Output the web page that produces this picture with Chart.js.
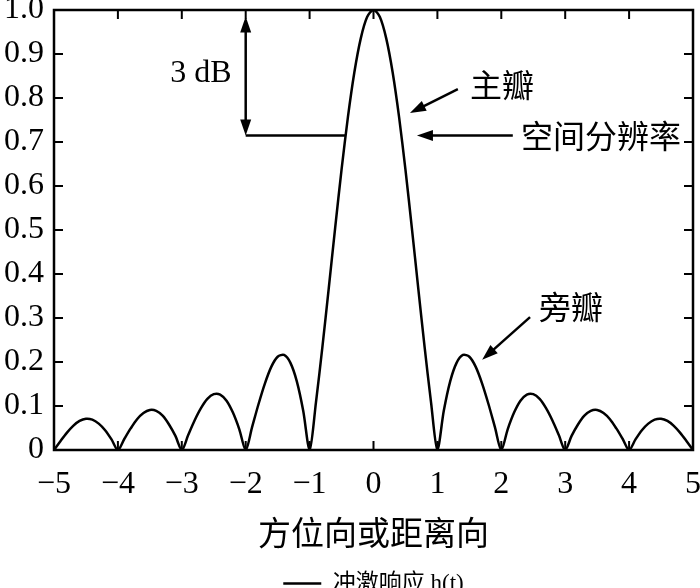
<!DOCTYPE html>
<html lang="zh">
<head>
<meta charset="utf-8">
<title>冲激响应</title>
<script src="https://cdn.jsdelivr.net/npm/chart.js@4/dist/chart.umd.min.js"></script>
<style>
  html, body { margin: 0; padding: 0; background: #fff; overflow: hidden; }
  #wrap { width: 700px; height: 605px; }
</style>
</head>
<body>
<div id="wrap"><canvas id="myChart" width="700" height="605"></canvas></div>
<script>
// 横轴位置 (方位向或距离向)
const xs = [
  -5, -4.9, -4.8, -4.7, -4.6, -4.5, -4.4, -4.3, -4.2, -4.1,
  -4, -3.9, -3.8, -3.7, -3.6, -3.5, -3.4, -3.3, -3.2, -3.1,
  -3, -2.9, -2.8, -2.7, -2.6, -2.5, -2.4, -2.3, -2.2, -2.1,
  -2, -1.9, -1.8, -1.7, -1.6, -1.5, -1.4, -1.3, -1.2, -1.1,
  -1, -0.9, -0.8, -0.7, -0.6, -0.5, -0.4, -0.3, -0.2, -0.1,
  0, 0.1, 0.2, 0.3, 0.4, 0.5, 0.6, 0.7, 0.8, 0.9,
  1, 1.1, 1.2, 1.3, 1.4, 1.5, 1.6, 1.7, 1.8, 1.9,
  2, 2.1, 2.2, 2.3, 2.4, 2.5, 2.6, 2.7, 2.8, 2.9,
  3, 3.1, 3.2, 3.3, 3.4, 3.5, 3.6, 3.7, 3.8, 3.9,
  4, 4.1, 4.2, 4.3, 4.4, 4.5, 4.6, 4.7, 4.8, 4.9,
  5
];
// 冲激响应 h(t)
const hVals = [
  0, 0.020, 0.039, 0.055, 0.066, 0.071, 0.069, 0.060, 0.045, 0.024,
  0, 0.025, 0.049, 0.070, 0.084, 0.091, 0.089, 0.078, 0.058, 0.032,
  0, 0.034, 0.067, 0.095, 0.116, 0.127, 0.126, 0.112, 0.085, 0.047,
  0, 0.052, 0.104, 0.151, 0.189, 0.212, 0.216, 0.198, 0.156, 0.089,
  0, 0.109, 0.234, 0.368, 0.505, 0.637, 0.757, 0.858, 0.935, 0.984,
  1, 0.984, 0.935, 0.858, 0.757, 0.637, 0.505, 0.368, 0.234, 0.109,
  0, 0.089, 0.156, 0.198, 0.216, 0.212, 0.189, 0.151, 0.104, 0.052,
  0, 0.047, 0.085, 0.112, 0.126, 0.127, 0.116, 0.095, 0.067, 0.034,
  0, 0.032, 0.058, 0.078, 0.089, 0.091, 0.084, 0.070, 0.049, 0.025,
  0, 0.024, 0.045, 0.060, 0.069, 0.071, 0.066, 0.055, 0.039, 0.020,
  0
];
const xTicks = [-5, -4, -3, -2, -1, 0, 1, 2, 3, 4, 5];
const xTickLabels = ['\u22125', '\u22124', '\u22123', '\u22122', '\u22121', '0', '1', '2', '3', '4', '5'];
const yTicks = [0, 0.1, 0.2, 0.3, 0.4, 0.5, 0.6, 0.7, 0.8, 0.9, 1.0];
const yTickLabels = ['0', '0.1', '0.2', '0.3', '0.4', '0.5', '0.6', '0.7', '0.8', '0.9', '1.0'];
const halfPower = 0.715;   // 3 dB 处

const serif = "'Liberation Serif', 'Noto Sans CJK SC', serif";
const cjk = "'Noto Sans CJK SC', 'Liberation Serif', sans-serif";

function arrowHead(ctx, x1, y1, x2, y2) {
  const a = Math.atan2(y2 - y1, x2 - x1);
  const len = 16, w = 5.5;
  ctx.beginPath();
  ctx.moveTo(x2, y2);
  ctx.lineTo(x2 - len * Math.cos(a) + w * Math.sin(a), y2 - len * Math.sin(a) - w * Math.cos(a));
  ctx.lineTo(x2 - len * Math.cos(a) - w * Math.sin(a), y2 - len * Math.sin(a) + w * Math.cos(a));
  ctx.closePath();
  ctx.fill();
}

function arrow(ctx, x1, y1, x2, y2) {
  const a = Math.atan2(y2 - y1, x2 - x1);
  ctx.beginPath();
  ctx.moveTo(x1, y1);
  ctx.lineTo(x2 - 10 * Math.cos(a), y2 - 10 * Math.sin(a));
  ctx.stroke();
  arrowHead(ctx, x1, y1, x2, y2);
}

// 边框, 向内刻度, 标注
const framePlugin = {
  id: 'framePlugin',
  afterDraw(chart) {
    const ctx = chart.ctx, a = chart.chartArea;
    const sx = chart.scales.x, sy = chart.scales.y;
    const X = v => sx.getPixelForValue(v), Y = v => sy.getPixelForValue(v);
    ctx.save();
    ctx.strokeStyle = '#000';
    ctx.fillStyle = '#000';
    ctx.lineWidth = 2.5;
    ctx.strokeRect(a.left, a.top, a.right - a.left, a.bottom - a.top);

    ctx.lineWidth = 2;
    ctx.beginPath();
    xTicks.forEach(v => {
      ctx.moveTo(X(v), a.bottom); ctx.lineTo(X(v), a.bottom - 9);
      ctx.moveTo(X(v), a.top); ctx.lineTo(X(v), a.top + 9);
    });
    yTicks.forEach(v => {
      ctx.moveTo(a.left, Y(v)); ctx.lineTo(a.left + 9, Y(v));
      ctx.moveTo(a.right, Y(v)); ctx.lineTo(a.right - 9, Y(v));
    });
    ctx.stroke();

    // 3 dB 双箭头和水平线
    ctx.lineWidth = 2.5;
    ctx.beginPath();
    ctx.moveTo(X(-2), Y(halfPower));
    ctx.lineTo(X(-0.44), Y(halfPower));
    ctx.stroke();
    ctx.beginPath();
    ctx.moveTo(X(-2), Y(0.985) + 10);
    ctx.lineTo(X(-2), Y(halfPower) - 10);
    ctx.stroke();
    arrowHead(ctx, X(-2), Y(halfPower), X(-2), Y(0.985));
    arrowHead(ctx, X(-2), Y(0.985), X(-2), Y(halfPower));

    arrow(ctx, X(1.32), Y(0.82), X(0.57), Y(0.766));
    arrow(ctx, X(2.18), Y(halfPower), X(0.68), Y(halfPower));
    arrow(ctx, X(2.45), Y(0.302), X(1.70), Y(0.205));

    ctx.textAlign = 'center';
    ctx.textBaseline = 'middle';
    ctx.font = '32px ' + serif;
    ctx.fillText('3 dB', X(-2.70), Y(0.855));
    ctx.font = '32px ' + cjk;
    ctx.fillText('主瓣', X(2.01), Y(0.83));
    ctx.fillText('空间分辨率', X(3.56), Y(halfPower));
    ctx.fillText('旁瓣', X(3.09), Y(0.325));
    ctx.restore();
  }
};

const points = xs.map((x, i) => ({ x: x, y: hVals[i] }));

var ctx1 = document.getElementById('myChart');
var myChart = new Chart(ctx1, {
  type: 'line',
  data: {
    datasets: [{
      label: '冲激响应 h(t)',
      data: points,
      borderColor: '#000',
      backgroundColor: '#000',
      borderWidth: 2.5,
      pointRadius: 0,
      tension: 0.3,
      fill: false
    }]
  },
  options: {
    responsive: false,
    devicePixelRatio: 1,
    animation: false,
    layout: { padding: { top: 10, right: 7, left: 0, bottom: 0 } },
    font: { family: serif },
    plugins: {
      tooltip: { enabled: false },
      legend: {
        position: 'bottom',
        fullSize: false,
        labels: {
          color: '#000',
          font: { family: serif, size: 23 },
          usePointStyle: true,
          pointStyle: 'line',
          pointStyleWidth: 38,
          padding: 10
        }
      }
    },
    scales: {
      x: {
        type: 'linear',
        min: -5,
        max: 5,
        afterBuildTicks: s => { s.ticks = xTicks.map(v => ({ value: v })); },
        ticks: {
          color: '#000',
          font: { family: serif, size: 32 },
          padding: 15,
          maxRotation: 0,
          autoSkip: false,
          callback: (v, i) => xTickLabels[i]
        },
        grid: { display: false, drawTicks: false },
        border: { display: false },
        title: {
          display: true,
          text: '方位向或距离向',
          color: '#000',
          font: { family: cjk, size: 33 },
          padding: { top: 0, bottom: 10 }
        },
        afterFit: s => { s.height = 112; s.paddingLeft = 0; s.paddingRight = 0; }
      },
      y: {
        min: 0,
        max: 1,
        afterBuildTicks: s => { s.ticks = yTicks.map(v => ({ value: v })); },
        ticks: {
          color: '#000',
          font: { family: serif, size: 32 },
          padding: 10,
          callback: (v, i) => yTickLabels[i]
        },
        grid: { display: false, drawTicks: false },
        border: { display: false },
        afterFit: s => { s.width = 54; s.paddingTop = 0; s.paddingBottom = 0; }
      }
    }
  },
  plugins: [framePlugin]
});
</script>
</body>
</html>
